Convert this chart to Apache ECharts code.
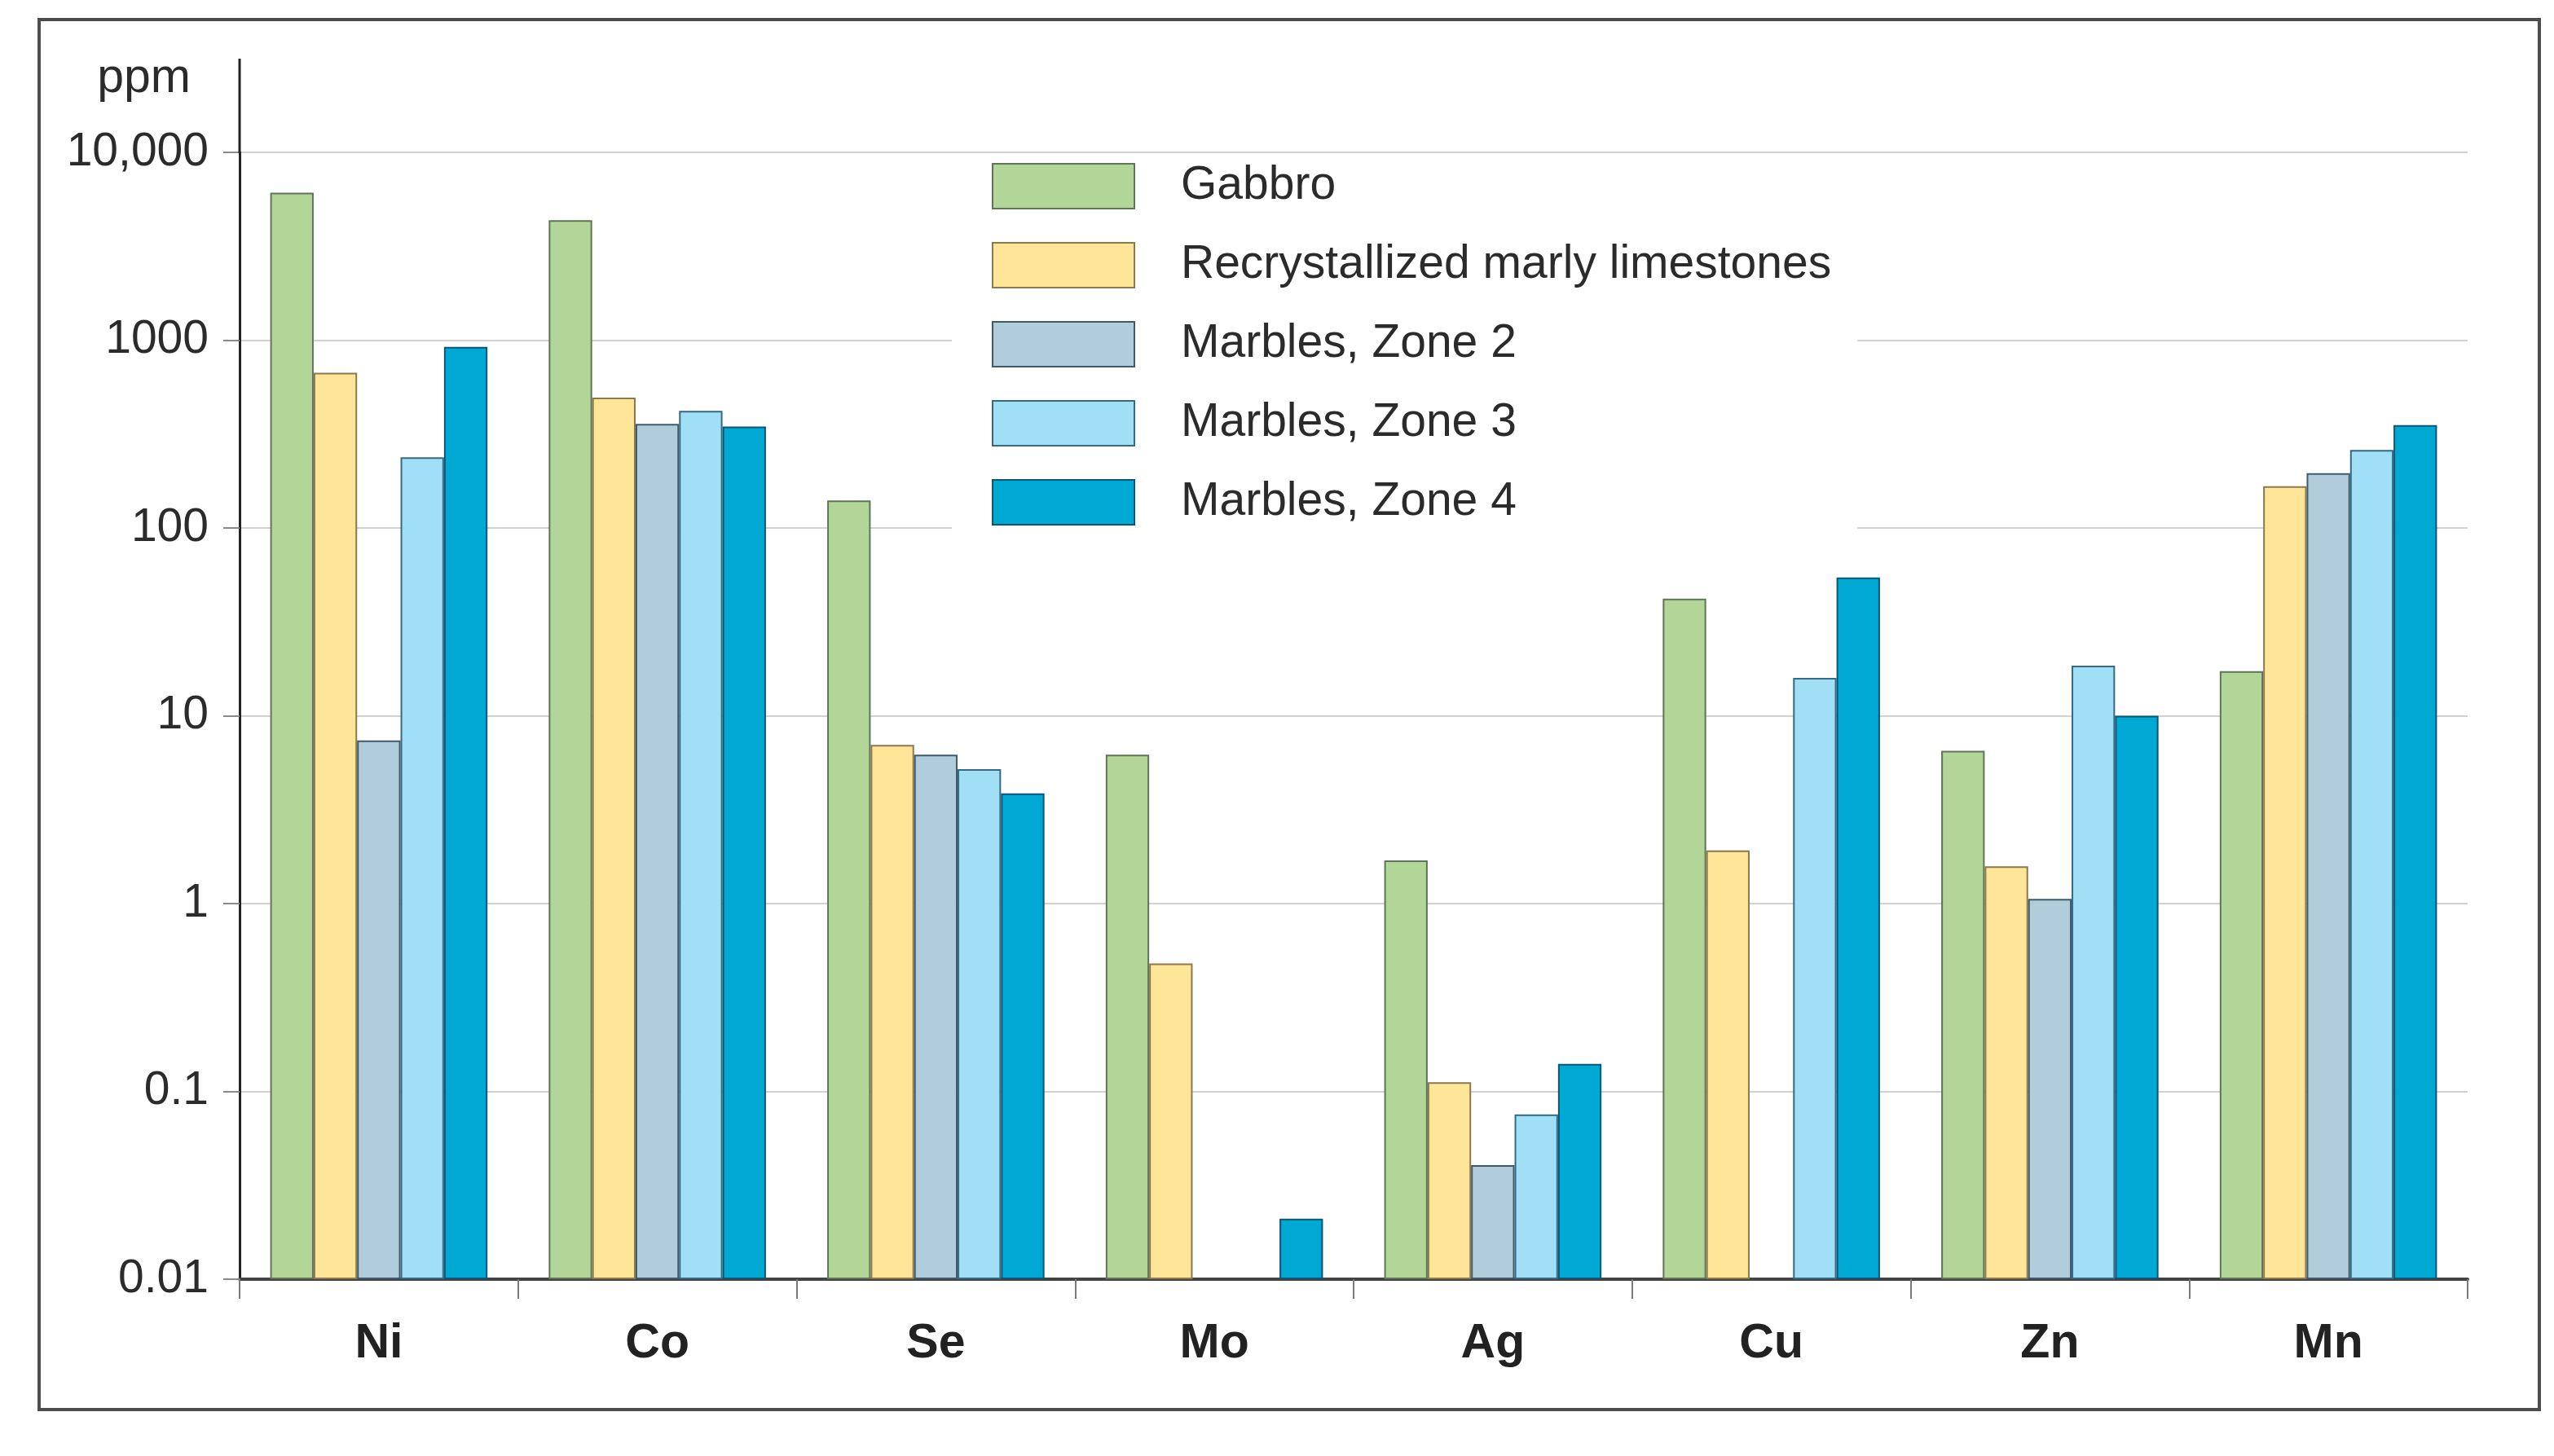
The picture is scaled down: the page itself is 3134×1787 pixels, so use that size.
<!DOCTYPE html>
<html>
<head>
<meta charset="utf-8">
<script src="https://cdn.jsdelivr.net/npm/echarts@6/dist/echarts.min.js"></script>
<style>
html,body{margin:0;padding:0;background:#fff;}
#chart{width:3134px;height:1787px;}
</style>
</head>
<body>
<div id="chart"></div>
<script>
const categories = ['Ni', 'Co', 'Se', 'Mo', 'Ag', 'Cu', 'Zn', 'Mn'];
const seriesNames = ['Gabbro', 'Recrystallized marly limestones', 'Marbles, Zone 2', 'Marbles, Zone 3', 'Marbles, Zone 4'];
const gabbro = [6100, 4350, 140, 6.2, 1.7, 42, 6.5, 17.3];
const marly  = [670, 495, 7.0, 0.48, 0.112, 1.92, 1.58, 167];
const zone2  = [7.4, 358, 6.2, null, 0.0405, null, 1.06, 196];
const zone3  = [238, 420, 5.2, null, 0.0755, 15.9, 18.5, 260];
const zone4  = [920, 347, 3.86, 0.021, 0.14, 54.5, 10, 353];
const yTickLabels = ['0.01', '0.1', '1', '10', '100', '1000', '10,000'];

const fills   = ['#b2d598', '#ffe598', '#b1cddc', '#a0dff6', '#00a9d3'];
const borders = ['#61745a', '#8a7a4e', '#415a6a', '#356a82', '#0e5574'];
const values  = [gabbro, marly, zone2, zone3, zone4];

const FONT = '"Liberation Sans", Arial, sans-serif';

const chart = echarts.init(document.getElementById('chart'), null, {renderer: 'canvas'});

const series = seriesNames.map((name, i) => ({
  name: name,
  type: 'bar',
  data: values[i],
  barGap: '0%',
  barCategoryGap: '22%',
  itemStyle: {color: fills[i], borderColor: borders[i], borderWidth: 2},
  emphasis: {disabled: true}
}));

chart.setOption({
  animation: false,
  backgroundColor: '#ffffff',
  textStyle: {fontFamily: FONT},
  grid: {left: 294, right: 106, top: 187, bottom: 217, containLabel: false},
  legend: {
    orient: 'vertical',
    left: 1168,
    top: 190,
    backgroundColor: '#ffffff',
    padding: [10, 32, 8, 49],
    itemWidth: 174,
    itemHeight: 55,
    itemGap: 40,
    icon: 'rect',
    selectedMode: false,
    textStyle: {fontSize: 57, color: '#2b2b2b', fontFamily: FONT, padding: [0, 0, 0, 52]},
    data: seriesNames
  },
  xAxis: {
    type: 'category',
    data: categories,
    axisLine: {lineStyle: {color: '#444444', width: 4}},
    axisTick: {show: true, alignWithLabel: false, length: 24, lineStyle: {color: '#7a7a7a', width: 2}},
    axisLabel: {fontSize: 59, fontWeight: 'bold', color: '#222222', margin: 50, fontFamily: FONT},
    splitLine: {show: false}
  },
  yAxis: {
    type: 'log',
    logBase: 10,
    min: 0.01,
    max: 10000,
    startValue: 0.01,
    name: 'ppm',
    nameLocation: 'end',
    nameGap: 90,
    nameTextStyle: {fontSize: 59, color: '#2b2b2b', align: 'right', verticalAlign: 'middle', padding: [0, 60, 0, 0], fontFamily: FONT},
    axisLine: {show: true, lineStyle: {color: '#222222', width: 3}},
    axisTick: {show: true, length: 20, lineStyle: {color: '#8a8a8a', width: 2}},
    axisLabel: {
      fontSize: 57, color: '#2b2b2b', margin: 38, fontFamily: FONT, padding: [16, 0, 0, 0],
      formatter: function (v) {
        const idx = Math.round(Math.log10(v)) + 2;
        return yTickLabels[idx] !== undefined ? yTickLabels[idx] : '';
      }
    },
    splitLine: {show: true, lineStyle: {color: '#d2d2d2', width: 2}}
  },
  graphic: [
    {type: 'rect', z: 100, silent: true, shape: {x: 48, y: 24, width: 3068, height: 1706},
      style: {fill: 'none', stroke: '#4d4d4d', lineWidth: 4}},
    {type: 'line', z: 100, silent: true, shape: {x1: 294, y1: 72, x2: 294, y2: 188},
      style: {stroke: '#222222', lineWidth: 3}}
  ],
  series: series
});
</script>
</body>
</html>
